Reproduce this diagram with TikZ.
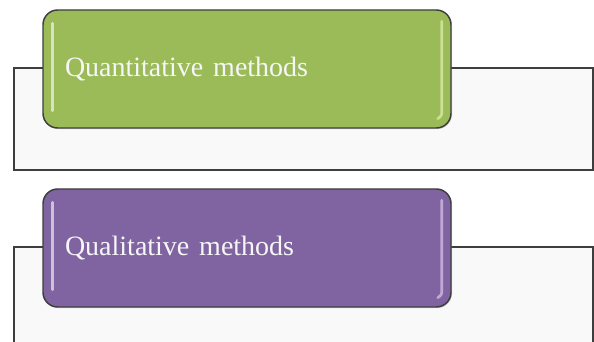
\documentclass[tikz,border=0pt]{standalone}
\usepackage{fontspec}
\setmainfont{Liberation Serif}
\usetikzlibrary{calc,shadows}
\definecolor{quantgreen}{RGB}{155,187,89}
\definecolor{qualpurple}{RGB}{128,100,162}
\definecolor{edgegray}{RGB}{62,62,62}
\definecolor{panelfill}{RGB}{249,249,249}
\tikzset{
	panel/.style={draw=edgegray, line width=1.1pt, fill=panelfill},
	methodbox/.style={
		draw=edgegray, line width=1.1pt, rounded corners=11pt,
		minimum width=306pt, minimum height=88.5pt,
		text width=273pt, align=left, inner xsep=16.5pt,
		text={rgb,255:red,246;green,246;blue,246},
		font=\fontsize{21}{25}\selectfont,
		drop shadow={opacity=0.35, shadow xshift=0.8pt, shadow yshift=-0.8pt}},
	gloss/.style={line width=2pt, line cap=round, draw=white, opacity=0.6}
}
\begin{document}
\begin{tikzpicture}[x=0.75pt,y=0.75pt,yscale=-1,xscale=1]
\clip (0,0) rectangle (594,342);

% panels behind the boxes
\draw [panel] (14,68) rectangle (593,170);
\draw [panel] (14,247) rectangle (593,360);

% Quantitative
\node [methodbox, fill=quantgreen] (quant) at (247,69) {Quantitative\hspace{0.35em}methods};
\draw [gloss] ($(quant.north west)+(10,14)$) -- ($(quant.south west)+(10,-18)$);
\draw [gloss, draw={rgb,255:red,235;green,250;blue,190}] ($(quant.north east)+(-10,12)$) -- ($(quant.south east)+(-10,-18)$) .. controls ($(quant.south east)+(-10,-13)$) .. ($(quant.south east)+(-14,-10)$);

% Qualitative
\node [methodbox, fill=qualpurple] (qual) at (247,248) {Qualitative\hspace{0.35em}methods};
\draw [gloss] ($(qual.north west)+(10,14)$) -- ($(qual.south west)+(10,-18)$);
\draw [gloss, draw={rgb,255:red,235;green,215;blue,250}] ($(qual.north east)+(-10,12)$) -- ($(qual.south east)+(-10,-18)$) .. controls ($(qual.south east)+(-10,-13)$) .. ($(qual.south east)+(-14,-10)$);
\end{tikzpicture}
\end{document}
